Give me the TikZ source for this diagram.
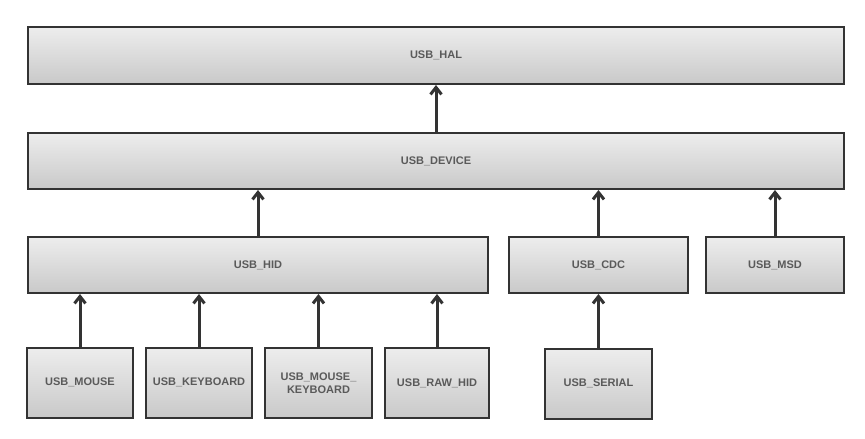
\documentclass[tikz,border=0pt]{standalone}
\usepackage{fontspec}
\setmainfont{Liberation Sans}
\usetikzlibrary{arrows.meta}
\definecolor{edge}{HTML}{333333}
\definecolor{boxtop}{HTML}{EDEDED}
\definecolor{boxbot}{HTML}{C9C9C9}
\definecolor{label}{HTML}{5A5A5A}
\tikzset{
  modbox/.style={draw=edge,line width=2pt,top color=boxtop,bottom color=boxbot,
    text=label,font=\fontsize{11}{12.5}\selectfont\bfseries,align=center,inner sep=0pt},
  uses/.style={draw=edge,line width=3pt,-{Straight Barb[length=7pt,width=11pt,line width=3pt]}}
}

\begin{document}
\begin{tikzpicture}[x=1pt,y=-1pt]
\useasboundingbox (0,0) rectangle (865,439);
% layers
\node[modbox,minimum width=816pt,minimum height=57pt] (hal) at (436,55.5) {USB\_HAL};
\node[modbox,minimum width=816pt,minimum height=56pt] (dev) at (436,161) {USB\_DEVICE};
\node[modbox,minimum width=460pt,minimum height=56pt] (hid) at (258,265) {USB\_HID};
\node[modbox,minimum width=179pt,minimum height=56pt] (cdc) at (598.5,265) {USB\_CDC};
\node[modbox,minimum width=138pt,minimum height=56pt] (msd) at (775,265) {USB\_MSD};
% class drivers
\node[modbox,minimum width=106pt,minimum height=70pt] (mouse) at (80,382.5) {USB\_MOUSE};
\node[modbox,minimum width=106pt,minimum height=70pt] (kbd) at (199,382.5) {USB\_KEYBOARD};
\node[modbox,minimum width=107pt,minimum height=70pt] (mousekbd) at (318.5,383) {USB\_MOUSE\_\\KEYBOARD};
\node[modbox,minimum width=104pt,minimum height=70pt] (rawhid) at (437,383) {USB\_RAW\_HID};
\node[modbox,minimum width=107pt,minimum height=70pt] (serial) at (598.5,383.5) {USB\_SERIAL};
% dependencies
\draw[uses] (dev.north) -- (hal.south);
\draw[uses] (hid.north) -- (hid.north |- dev.south);
\draw[uses] (cdc.north) -- (cdc.north |- dev.south);
\draw[uses] (msd.north) -- (msd.north |- dev.south);
\draw[uses] (mouse.north) -- (mouse.north |- hid.south);
\draw[uses] (kbd.north) -- (kbd.north |- hid.south);
\draw[uses] (mousekbd.north) -- (mousekbd.north |- hid.south);
\draw[uses] (rawhid.north) -- (rawhid.north |- hid.south);
\draw[uses] (serial.north) -- (serial.north |- cdc.south);
\end{tikzpicture}
\end{document}
